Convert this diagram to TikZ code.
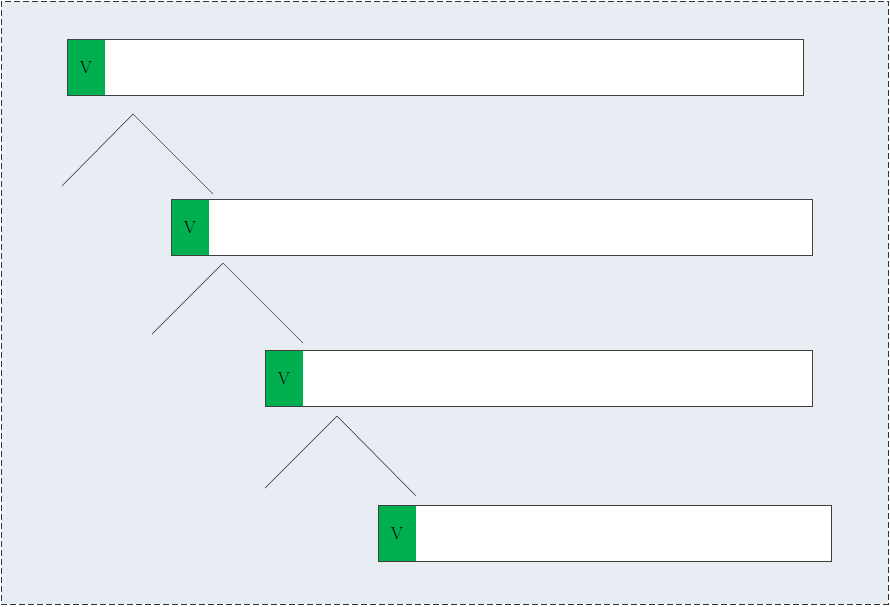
\documentclass[tikz,border=0pt]{standalone}
\definecolor{bgblue}{HTML}{E8EDF4}
\definecolor{vgreen}{HTML}{00B050}
\tikzset{
  bar/.style={draw=black!75, line width=0.9pt, fill=white, anchor=north west, inner sep=0pt, minimum height=56pt,
    path picture={\fill[vgreen] (path picture bounding box.north west) rectangle ([xshift=38pt]path picture bounding box.south west);}},
  vlabel/.style={inner sep=0pt, font=\fontsize{17.5}{20}\selectfont},
  branch/.style={draw=black!70, line width=0.7pt},
}
\begin{document}
\begin{tikzpicture}[x=1pt,y=-1pt]
\useasboundingbox (0,0) rectangle (890,606);
\draw[fill=bgblue, draw=black!80, dash pattern=on 6pt off 3pt, line width=0.8pt] (1,1) rectangle (888,604);

\node[bar, minimum width=736pt] (b1) at (67,39) {};
\node[vlabel] (v1) at ([xshift=19pt]b1.west) {V};
\node[bar, minimum width=641pt] (b2) at (171,199) {};
\node[vlabel] (v2) at ([xshift=19pt]b2.west) {V};
\node[bar, minimum width=547pt] (b3) at (265,350) {};
\node[vlabel] (v3) at ([xshift=19pt]b3.west) {V};
\node[bar, minimum width=453pt] (b4) at (378,505) {};
\node[vlabel] (v4) at ([xshift=19pt]b4.west) {V};

\coordinate (a1) at (133,114);
\coordinate (l1) at (62,186);
\coordinate (r1) at (213,194);
\coordinate (a2) at (223,263);
\coordinate (l2) at (152,334);
\coordinate (r2) at (303,343);
\coordinate (a3) at (337,416);
\coordinate (l3) at (265,488);
\coordinate (r3) at (416,496);

\draw[branch] (l1) -- (a1) -- (r1);
\draw[branch] (l2) -- (a2) -- (r2);
\draw[branch] (l3) -- (a3) -- (r3);
\end{tikzpicture}
\end{document}
